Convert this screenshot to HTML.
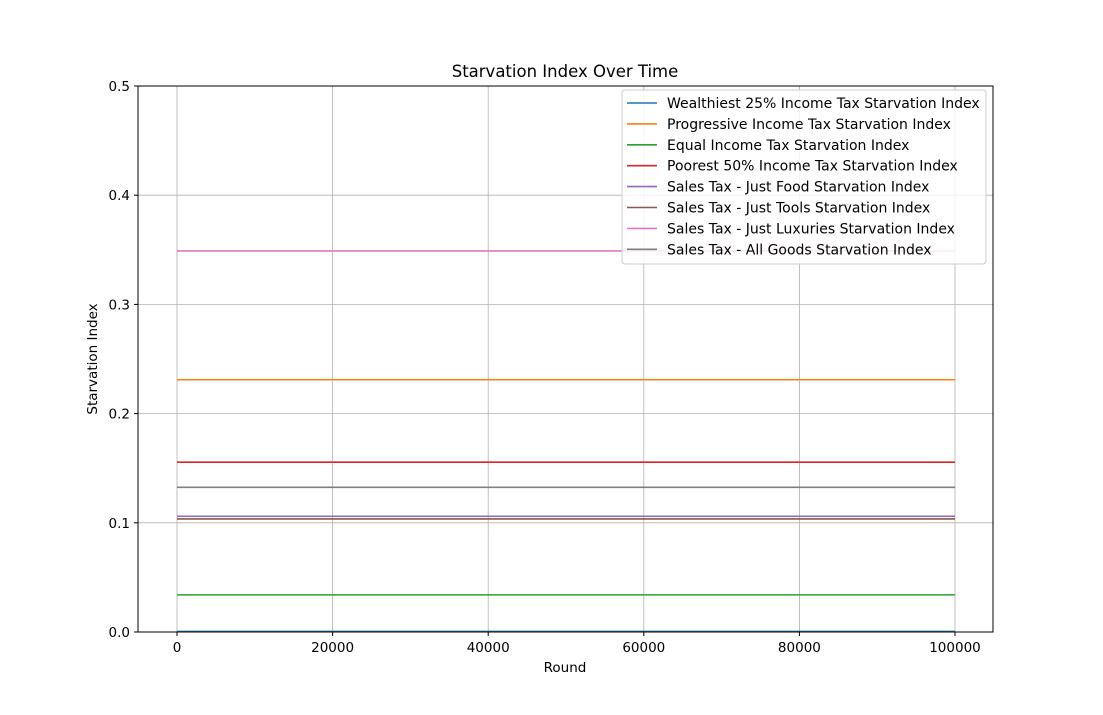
<!DOCTYPE html>
<html><head><meta charset="utf-8"><style>
body{margin:0;background:#fff;}
svg{font-family:"DejaVu Sans","Liberation Sans",sans-serif;}
</style></head><body>
<svg id="chart" width="1103" height="710" viewBox="0 0 1103 710">
<rect width="1103" height="710" fill="#fff"/>
<g id="grid"></g>
<g id="series"></g>
<rect x="138" y="86" width="855" height="546" fill="none" stroke="#000" stroke-width="1"/>
<g id="ticks" font-size="13.5"></g>
<text x="565" y="77" text-anchor="middle" font-size="16.5">Starvation Index Over Time</text>
<text x="565" y="672" text-anchor="middle" font-size="13.5">Round</text>
<text transform="translate(97,359) rotate(-90)" text-anchor="middle" font-size="13.5">Starvation Index</text>
<g id="legend" font-size="14"></g>
</svg>
<script>
const seriesNames=["Wealthiest 25% Income Tax Starvation Index","Progressive Income Tax Starvation Index","Equal Income Tax Starvation Index","Poorest 50% Income Tax Starvation Index","Sales Tax - Just Food Starvation Index","Sales Tax - Just Tools Starvation Index","Sales Tax - Just Luxuries Starvation Index","Sales Tax - All Goods Starvation Index"];
const seriesColors=["#1f77b4","#ff7f0e","#2ca02c","#d62728","#9467bd","#8c564b","#e377c2","#7f7f7f"];
const seriesValues=[0.0005,0.231,0.034,0.1555,0.106,0.1035,0.349,0.1325];
const xStart=[0,0,0,0,0,0,0,0];
const xEnd=[100000,100000,100000,100000,100000,100000,100000,100000];
const xTicks=[0,20000,40000,60000,80000,100000];
const yTicks=[0.0,0.1,0.2,0.3,0.4,0.5];
const yTickLabels=["0.0","0.1","0.2","0.3","0.4","0.5"];
const NS="http://www.w3.org/2000/svg";
const X=v=>177+(v/100000)*778;
const Y=v=>632-(v/0.5)*546;
function mk(tag,attrs,parent){const e=document.createElementNS(NS,tag);for(const k in attrs)e.setAttribute(k,attrs[k]);parent.appendChild(e);return e;}
const grid=document.getElementById('grid'),ticks=document.getElementById('ticks'),ser=document.getElementById('series'),leg=document.getElementById('legend');
xTicks.forEach(t=>{
 const g=mk('line',{x1:X(t),x2:X(t),y1:86,y2:632,stroke:'#b0b0b0','stroke-width':0.8},grid);
 
 
 const tk=mk('line',{x1:X(t),x2:X(t),y1:632,y2:636,stroke:'#000'},ticks);
 
 
 const tx=mk('text',{x:X(t),y:652,'text-anchor':'middle'},ticks);tx.textContent=t;
 
 
});
yTicks.forEach((t,i)=>{
 const g=mk('line',{x1:138,x2:993,y1:Y(t),y2:Y(t),stroke:'#b0b0b0','stroke-width':0.8},grid);
 
 
 const tk=mk('line',{x1:134,x2:138,y1:Y(t),y2:Y(t),stroke:'#000'},ticks);
 
 
 const tx=mk('text',{x:130,y:Y(t)+5,'text-anchor':'end'},ticks);tx.textContent=yTickLabels[i];
 
 
});
seriesValues.forEach((v,i)=>{
 const l=mk('line',{x1:X(xStart[i]),x2:X(xEnd[i]),y1:Y(v),y2:Y(v),stroke:seriesColors[i],'stroke-width':1.6},ser);
 
 
});
const box=mk('rect',{x:622,y:90,width:364,height:174,rx:3,fill:'#fff','fill-opacity':0.85,stroke:'#ccc'},leg);


seriesNames.forEach((n,i)=>{
 const y=103+i*20.9;
 const l=mk('line',{x1:627,x2:657,y1:y,y2:y,stroke:seriesColors[i],'stroke-width':1.6},leg);
 
 
 const t=mk('text',{x:667,y:y+5},leg);t.textContent=n;
 
 
});
</script>
</body></html>
